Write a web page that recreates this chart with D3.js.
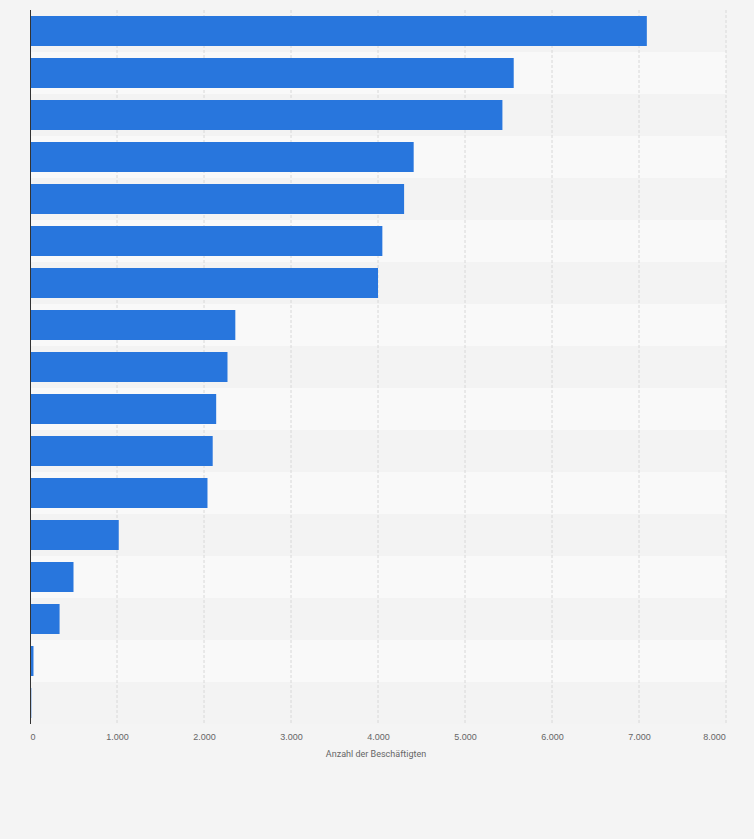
<!DOCTYPE html>
<html><head><meta charset="utf-8">
<script src="https://cdn.jsdelivr.net/npm/d3@7"></script>
<style>body{margin:0;background:#f4f4f4;font-family:Roboto,Arial,sans-serif}</style>
</head><body><svg id="c" width="754" height="839"></svg>
<script>
const values = [7090, 5560, 5430, 4410, 4300, 4050, 4000, 2360, 2270, 2140, 2100, 2040, 1020, 500, 340, 40, 15];
const ticks = [0, 1000, 2000, 3000, 4000, 5000, 6000, 7000, 8000];
const xTitle = 'Anzahl der Beschäftigten';

const svg = d3.select('#c');
const m = { left: 30, right: 726, top: 10, bottom: 724 };

const x = d3.scaleLinear().domain([0, 8000]).range([m.left, m.right]);
const y = d3.scaleBand().domain(d3.range(values.length)).range([m.top, m.bottom]).paddingInner(0).paddingOuter(0);

// row stripes
svg.append('g').selectAll('rect').data(values).join('rect')
  .attr('x', m.left).attr('y', (d, i) => y(i))
  .attr('width', m.right - m.left).attr('height', y.bandwidth())
  .attr('fill', (d, i) => i % 2 ? '#f9f9f9' : '#f3f3f3');

// grid
svg.append('g').selectAll('line').data(ticks.slice(1)).join('line')
  .attr('x1', d => x(d)).attr('x2', d => x(d))
  .attr('y1', m.top).attr('y2', m.bottom)
  .attr('stroke', '#d8d8d8').attr('stroke-dasharray', '3,2');

// bars
const pad = 6;
svg.append('g').selectAll('rect').data(values).join('rect')
  .attr('x', x(0)).attr('y', (d, i) => y(i) + pad)
  .attr('width', d => x(d) - x(0)).attr('height', y.bandwidth() - 2 * pad)
  .attr('fill', '#2876dd');

// left axis line
svg.append('line').attr('x1', m.left + 0.5).attr('x2', m.left + 0.5)
  .attr('y1', m.top).attr('y2', m.bottom).attr('stroke', '#333');

// x axis
const fmt = d => d3.format(',')(d).replace(/,/g, '.');
const ax = svg.append('g').attr('transform', `translate(0,${m.bottom})`)
  .call(d3.axisBottom(x).tickValues(ticks).tickFormat(fmt).tickSize(0).tickPadding(10));
ax.select('.domain').remove();
ax.selectAll('text').attr('fill', '#666').attr('font-size', 9)
  .attr('text-anchor', (d, i) => i === 0 ? 'start' : 'middle')
  .attr('dx', (d, i) => i === 0 ? 0 : (i === ticks.length - 1 ? -12 : 0));

svg.append('text').attr('x', (m.left + m.right) / 2 - 2).attr('y', 757)
  .attr('text-anchor', 'middle').attr('font-size', 9).attr('fill', '#666').text(xTitle);
</script></body></html>
